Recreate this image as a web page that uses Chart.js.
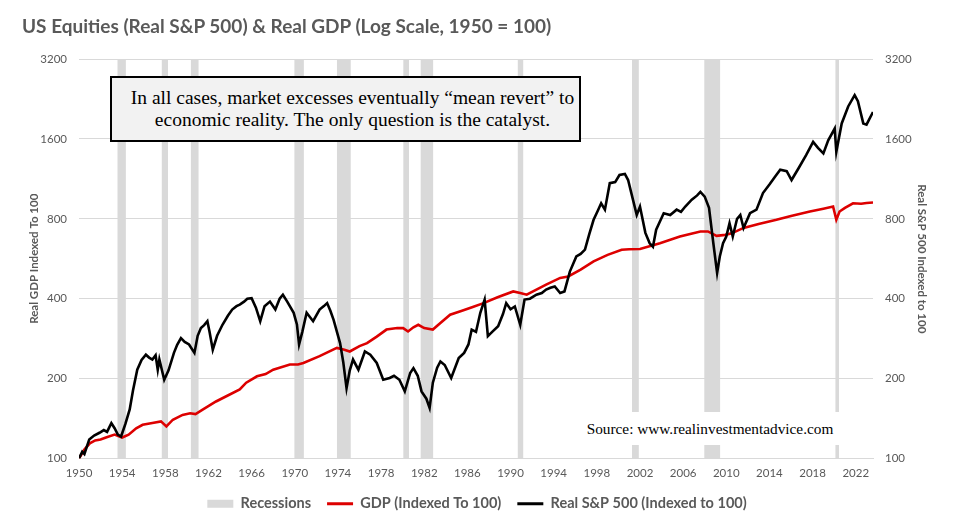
<!DOCTYPE html>
<html>
<head>
<meta charset="utf-8">
<script src="https://cdn.jsdelivr.net/npm/chart.js@4.4.1/dist/chart.umd.min.js"></script>
<style>
    body { margin: 0; background: #fff; }
    #wrap { position: relative; width: 954px; height: 531px; }
    #chartTitle {
        position: absolute; left: 22px; top: 14px;
        font: bold 19px Lato, sans-serif; color: #595959;
    }
    #note {
        position: absolute; left: 110px; top: 76px; width: 471px; height: 66px;
        box-sizing: border-box; border: 2px solid #000; background: #f2f2f2;
        padding-left: 14px;
        display: flex; flex-direction: column; justify-content: center;
        font: 19.5px "Liberation Serif", serif; line-height: 22px; color: #000;
        text-align: center;
    }
    #source {
        position: absolute; left: 576px; top: 412px; width: 268px; height: 33px;
        background: #fff; font: 15.3px "Liberation Serif", serif; color: #000;
        line-height: 33px; text-align: center;
    }
</style>
</head>
<body>
<div id="wrap">
    <canvas id="mainChart"></canvas>
    <div id="chartTitle">US Equities (Real S&amp;P 500) &amp; Real GDP (Log Scale, 1950 = 100)</div>
    <div id="note">In all cases, market excesses eventually “mean revert” to<br>economic reality. The only question is the catalyst.</div>
    <div id="source">Source: www.realinvestmentadvice.com</div>
</div>
<script>
// Axis ticks
const yearTicks = [1950, 1954, 1958, 1962, 1966, 1970, 1974, 1978, 1982, 1986, 1990, 1994, 1998, 2002, 2006, 2010, 2014, 2018, 2022];
const valueTicks = [100, 200, 400, 800, 1600, 3200];

// Recession periods (start / end, decimal years)
const recStart = [1953.55, 1957.65, 1960.35, 1969.95, 1973.9, 1980.05, 1981.65, 1990.65, 2001.25, 2007.95, 2020.1];
const recEnd = [1954.35, 1958.25, 1961.1, 1970.85, 1975.2, 1980.6, 1982.85, 1991.2, 2001.9, 2009.45, 2020.45];

// Real GDP, indexed 1950 = 100
const gdpYears = [1950.0, 1950.5, 1951.0, 1951.5, 1952.0, 1952.5, 1953.3, 1954.0, 1954.6, 1955.3,
    1955.9, 1956.8, 1957.6, 1958.1, 1958.7, 1959.6, 1960.3, 1960.8, 1961.5, 1962.7,
    1963.7, 1964.9, 1965.5, 1966.5, 1967.3, 1968.0, 1969.55, 1970.3, 1970.8, 1972.3,
    1973.9, 1974.6, 1975.1, 1976.0, 1976.7, 1977.6, 1978.5, 1979.5, 1980.05, 1980.5,
    1981.0, 1981.45, 1982.0, 1982.8, 1983.5, 1984.4, 1985.5, 1986.5, 1987.5, 1988.8,
    1990.25, 1990.9, 1991.5, 1993.3, 1994.6, 1995.35, 1996.5, 1997.7, 1999.0, 2000.3,
    2001.0, 2002.0, 2003.85, 2005.7, 2007.6, 2008.3, 2009.1, 2009.9, 2010.5, 2011.6,
    2013.0, 2014.65, 2016.0, 2017.75, 2019.0, 2019.9, 2020.2, 2020.5, 2021.0, 2021.75,
    2022.5, 2023.0, 2023.6];
const gdpValues = [100, 108, 114, 117, 118, 120, 123, 120, 123, 130,
    134, 136, 138, 132, 140, 146, 148, 147, 153, 164,
    172, 182, 193, 204, 208, 216, 226, 226, 229, 243,
    261, 257, 253, 265, 272, 288, 306, 310, 310, 301,
    312, 319, 310, 306, 324, 348, 360, 372, 385, 405,
    426, 420, 414, 452, 479, 485, 515, 553, 585, 612,
    614, 616, 647, 686, 717, 717, 690, 696, 705, 739,
    765, 793, 820, 852, 873, 890, 793, 852, 880, 915,
    912, 918, 922];

// Real S&P 500, indexed 1950 = 100
const spYears = [1950.0, 1950.3, 1950.5, 1950.95, 1951.4, 1951.9, 1952.3, 1952.6, 1953.0, 1953.3,
    1953.6, 1953.9, 1954.3, 1954.7, 1955.0, 1955.4, 1955.8, 1956.2, 1956.5, 1956.8,
    1957.1, 1957.3, 1957.45, 1957.9, 1958.3, 1958.8, 1959.1, 1959.45, 1959.8, 1960.2,
    1960.7, 1961.0, 1961.3, 1961.6, 1961.9, 1962.1, 1962.4, 1962.8, 1963.3, 1963.8,
    1964.2, 1964.6, 1964.9, 1965.3, 1965.6, 1966.0, 1966.4, 1966.8, 1967.2, 1967.7,
    1968.2, 1968.6, 1968.9, 1969.3, 1969.9, 1970.2, 1970.4, 1970.7, 1971.1, 1971.7,
    1972.3, 1972.7, 1973.0, 1973.3, 1973.6, 1974.2, 1974.5, 1974.8, 1975.1, 1975.4,
    1975.9, 1976.5, 1977.0, 1977.6, 1978.2, 1978.8, 1979.2, 1979.7, 1980.2, 1980.7,
    1981.0, 1981.4, 1981.75, 1982.2, 1982.5, 1982.8, 1983.2, 1983.5, 1983.9, 1984.5,
    1985.2, 1985.7, 1986.1, 1986.4, 1986.8, 1987.2, 1987.6, 1987.9, 1988.3, 1988.85,
    1989.3, 1989.6, 1990.0, 1990.4, 1990.9, 1991.3, 1991.8, 1992.4, 1992.9, 1993.3,
    1993.7, 1994.1, 1994.6, 1995.0, 1995.5, 1996.1, 1996.5, 1996.9, 1997.3, 1997.7,
    1998.1, 1998.4, 1998.75, 1999.2, 1999.7, 2000.1, 2000.6, 2000.9, 2001.2, 2001.7,
    2002.0, 2002.5, 2002.9, 2003.2, 2003.5, 2004.2, 2004.8, 2005.4, 2005.8, 2006.2,
    2006.8, 2007.3, 2007.6, 2008.0, 2008.4, 2008.8, 2009.15, 2009.4, 2009.7, 2010.0,
    2010.3, 2010.6, 2011.0, 2011.3, 2011.6, 2012.2, 2012.8, 2013.4, 2014.0, 2014.5,
    2015.0, 2015.6, 2016.05, 2016.7, 2017.4, 2018.05, 2018.5, 2019.0, 2019.45, 2020.05,
    2020.2, 2020.7, 2021.3, 2021.9, 2022.2, 2022.7, 2023.0, 2023.2, 2023.6];
const spValues = [100, 106, 104, 118, 122, 125, 128, 126, 136, 130,
    123, 121, 135, 153, 180, 216, 235, 246, 240, 236,
    245, 216, 236, 198, 215, 250, 268, 284, 275, 269,
    250, 290, 310, 318, 329, 300, 257, 290, 319, 345,
    364, 375, 380, 390, 400, 402, 370, 329, 375, 390,
    364, 400, 414, 390, 354, 320, 269, 300, 354, 329,
    364, 375, 385, 360, 333, 272, 230, 184, 215, 236,
    216, 253, 246, 229, 198, 201, 205, 198, 179, 210,
    219, 205, 179, 168, 155, 193, 220, 232, 225, 201,
    239, 250, 269, 306, 300, 354, 397, 289, 300, 315,
    350, 385, 365, 374, 319, 397, 400, 414, 420, 433,
    440, 445, 420, 426, 506, 577, 590, 612, 700, 793,
    860, 915, 866, 1090, 1100, 1170, 1180, 1120, 1000, 827,
    890, 708, 647, 628, 728, 840, 827, 866, 850, 890,
    944, 980, 1010, 970, 880, 647, 500, 577, 647, 686,
    770, 686, 800, 827, 739, 840, 866, 1000, 1077, 1150,
    1224, 1209, 1120, 1240, 1390, 1560, 1480, 1410, 1580, 1750,
    1430, 1830, 2120, 2340, 2220, 1830, 1810, 1880, 2020];

const TOP_VALUE = 3200;
const GREY_TEXT = '#595959';
const GRID = '#d9d9d9';
const RED = '#dd0000';

/**
 * Build the shaded recession bands as filled line segments
 */
function buildRecessionPoints() {
    const pts = [];
    recStart.forEach((start, i) => {
        pts.push({ x: start, y: TOP_VALUE });
        pts.push({ x: recEnd[i], y: TOP_VALUE });
        pts.push({ x: recEnd[i], y: null });
    });
    return pts;
}

function zip(xs, ys) {
    return xs.map((x, i) => ({ x: x, y: ys[i] }));
}

const tickFont = { family: 'Lato, sans-serif', size: 11.5 };
const axisTitleFont = { family: 'Lato, sans-serif', size: 11.5, weight: 'bold' };

document.addEventListener('DOMContentLoaded', () => {
    const ctx = document.getElementById('mainChart');

    new Chart(ctx, {
        type: 'line',
        data: {
            datasets: [
                {
                    label: 'Recessions',
                    data: buildRecessionPoints(),
                    backgroundColor: GRID,
                    borderWidth: 0,
                    pointRadius: 0,
                    fill: 'start',
                    spanGaps: false,
                    yAxisID: 'y',
                    order: 3
                },
                {
                    label: 'GDP (Indexed To 100)',
                    data: zip(gdpYears, gdpValues),
                    borderColor: RED,
                    borderWidth: 2.6,
                    pointRadius: 0,
                    fill: false,
                    tension: 0,
                    yAxisID: 'y',
                    order: 2
                },
                {
                    label: 'Real S&P 500 (Indexed to 100)',
                    data: zip(spYears, spValues),
                    borderColor: '#000000',
                    borderWidth: 2.6,
                    pointRadius: 0,
                    fill: false,
                    tension: 0,
                    yAxisID: 'y2',
                    order: 1
                }
            ]
        },
        options: {
            responsive: true,
            maintainAspectRatio: false,
            animation: false,
            layout: { padding: { top: 59, bottom: 10, left: 0, right: 0 } },
            plugins: {
                tooltip: { enabled: false },
                legend: {
                    position: 'bottom',
                    labels: {
                        usePointStyle: true,
                        pointStyleWidth: 26,
                        boxHeight: 8,
                        padding: 16,
                        color: GREY_TEXT,
                        font: { family: 'Lato, sans-serif', size: 14.5, weight: 'bold' },
                        generateLabels: () => [
                            { text: 'Recessions', fillStyle: GRID, strokeStyle: GRID, lineWidth: 0, pointStyle: 'rect', fontColor: GREY_TEXT, datasetIndex: 0 },
                            { text: 'GDP (Indexed To 100)', fillStyle: RED, strokeStyle: RED, lineWidth: 3, pointStyle: 'line', fontColor: GREY_TEXT, datasetIndex: 1 },
                            { text: 'Real S&P 500 (Indexed to 100)', fillStyle: '#000', strokeStyle: '#000', lineWidth: 3, pointStyle: 'line', fontColor: GREY_TEXT, datasetIndex: 2 }
                        ]
                    }
                }
            },
            scales: {
                x: {
                    type: 'linear',
                    min: 1950,
                    max: 2023.6,
                    afterBuildTicks: (scale) => { scale.ticks = yearTicks.map(v => ({ value: v })); },
                    afterFit: (scale) => { scale.height = 22; },
                    grid: { display: false, drawTicks: false },
                    border: { display: true, color: GRID, width: 1 },
                    ticks: {
                        color: GREY_TEXT,
                        font: tickFont,
                        padding: 8,
                        maxRotation: 0,
                        autoSkip: false,
                        callback: (v) => String(v)
                    }
                },
                y: {
                    type: 'logarithmic',
                    position: 'left',
                    min: 100,
                    max: TOP_VALUE,
                    afterBuildTicks: (scale) => { scale.ticks = valueTicks.map(v => ({ value: v })); },
                    afterFit: (scale) => { scale.width = 79; },
                    grid: { color: GRID, drawTicks: false, lineWidth: 1 },
                    border: { display: false },
                    ticks: { color: GREY_TEXT, font: tickFont, padding: 12, callback: (v) => String(v) },
                    title: { display: true, text: 'Real GDP Indexed To 100', color: GREY_TEXT, font: axisTitleFont, padding: { top: 27, bottom: 0 } }
                },
                y2: {
                    type: 'logarithmic',
                    position: 'right',
                    min: 100,
                    max: TOP_VALUE,
                    afterBuildTicks: (scale) => { scale.ticks = valueTicks.map(v => ({ value: v })); },
                    afterFit: (scale) => { scale.width = 81; },
                    grid: { display: false, drawTicks: false },
                    border: { display: false },
                    ticks: { color: GREY_TEXT, font: tickFont, padding: 12, callback: (v) => String(v) },
                    title: { display: true, text: 'Real S&P 500 Indexed to 100', color: GREY_TEXT, font: axisTitleFont, padding: { top: 25, bottom: 0 } }
                }
            }
        }
    });
});
</script>
</body>
</html>
